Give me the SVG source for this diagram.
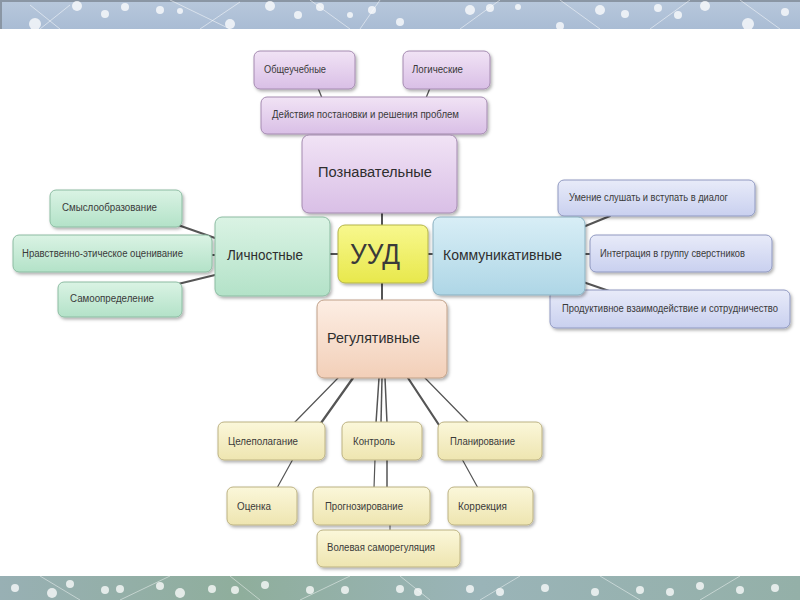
<svg xmlns="http://www.w3.org/2000/svg" width="800" height="600" viewBox="0 0 800 600">
<defs>
<style>
.t{font-family:"Liberation Sans","Arial",sans-serif;fill:#3a3a3a}
.leaf{font-size:10px}
.main{font-size:14px;fill:#2e2e2e}
.c{stroke:#555;fill:none;stroke-linecap:round}
.pur{fill:url(#gPur);stroke:#a48ab0}
.grn{fill:url(#gGrn);stroke:#8cbca2}
.yel{fill:url(#gYel);stroke:#b4b44a}
.blu{fill:url(#gBlu);stroke:#8ab0c0}
.lav{fill:url(#gLav);stroke:#8f98c0}
.pch{fill:url(#gPch);stroke:#c0a088}
.crm{fill:url(#gCrm);stroke:#bcb282}
.dot{fill:#ffffff;opacity:0.75}
</style>
<linearGradient id="gPur" x1="0" y1="0" x2="0" y2="1"><stop offset="0" stop-color="#f1e3f5"/><stop offset="1" stop-color="#d9bfe6"/></linearGradient>
<linearGradient id="gGrn" x1="0" y1="0" x2="0" y2="1"><stop offset="0" stop-color="#daf3e4"/><stop offset="1" stop-color="#b3e2c8"/></linearGradient>
<linearGradient id="gYel" x1="0" y1="0" x2="0" y2="1"><stop offset="0" stop-color="#f8f88e"/><stop offset="1" stop-color="#e8e84c"/></linearGradient>
<linearGradient id="gBlu" x1="0" y1="0" x2="0" y2="1"><stop offset="0" stop-color="#d8eef6"/><stop offset="1" stop-color="#aed6e6"/></linearGradient>
<linearGradient id="gLav" x1="0" y1="0" x2="0" y2="1"><stop offset="0" stop-color="#e8ebf9"/><stop offset="1" stop-color="#c9d0ef"/></linearGradient>
<linearGradient id="gPch" x1="0" y1="0" x2="0" y2="1"><stop offset="0" stop-color="#fdeee4"/><stop offset="1" stop-color="#f2cfb8"/></linearGradient>
<linearGradient id="gCrm" x1="0" y1="0" x2="0" y2="1"><stop offset="0" stop-color="#fbf7da"/><stop offset="1" stop-color="#eee5b0"/></linearGradient>
<linearGradient id="gTop" x1="0" y1="0" x2="0" y2="1"><stop offset="0" stop-color="#b8c8dc"/><stop offset="1" stop-color="#a9bcd4"/></linearGradient>
<linearGradient id="gBot" x1="0" y1="0" x2="1" y2="0"><stop offset="0" stop-color="#98b0b4"/><stop offset="0.3" stop-color="#8fae9c"/><stop offset="0.6" stop-color="#9ab4b8"/><stop offset="1" stop-color="#94b0a8"/></linearGradient>
<filter id="sh" x="-10%" y="-10%" width="130%" height="140%"><feDropShadow dx="1.5" dy="2" stdDeviation="1.5" flood-color="#000" flood-opacity="0.3"/></filter>
</defs>
<rect width="800" height="600" fill="#ffffff"/>
<g id="banner-top">
<rect x="0" y="0" width="800" height="29" fill="url(#gTop)"/>
<rect x="0" y="0" width="800" height="2" fill="#8a96a4"/>
<rect x="0" y="0" width="2" height="29" fill="#8a96a4"/>
<g stroke="#ffffff" stroke-opacity="0.5" stroke-width="1">
<line x1="30" y1="5" x2="60" y2="29"/><line x1="70" y1="5" x2="40" y2="29"/><line x1="170" y1="0" x2="230" y2="29"/><line x1="200" y1="29" x2="240" y2="2"/><line x1="310" y1="0" x2="350" y2="29"/><line x1="360" y1="29" x2="380" y2="0"/><line x1="460" y1="29" x2="500" y2="0"/><line x1="560" y1="0" x2="600" y2="29"/><line x1="650" y1="29" x2="690" y2="0"/><line x1="740" y1="0" x2="780" y2="29"/>
</g>
<circle class="dot" cx="77" cy="6" r="5"/><circle class="dot" cx="105" cy="14" r="4"/><circle class="dot" cx="125" cy="7" r="4"/><circle class="dot" cx="35" cy="24" r="6"/><circle class="dot" cx="160" cy="10" r="4"/><circle class="dot" cx="180" cy="11" r="3"/><circle class="dot" cx="230" cy="24" r="5"/><circle class="dot" cx="270" cy="6" r="5"/><circle class="dot" cx="298" cy="15" r="4"/><circle class="dot" cx="320" cy="7" r="4"/><circle class="dot" cx="350" cy="15" r="3"/><circle class="dot" cx="372" cy="10" r="4"/><circle class="dot" cx="400" cy="22" r="4"/><circle class="dot" cx="470" cy="10" r="5"/><circle class="dot" cx="490" cy="8" r="4"/><circle class="dot" cx="518" cy="7" r="3"/><circle class="dot" cx="560" cy="26" r="4"/><circle class="dot" cx="600" cy="10" r="5"/><circle class="dot" cx="625" cy="14" r="4"/><circle class="dot" cx="658" cy="8" r="4"/><circle class="dot" cx="678" cy="15" r="4"/><circle class="dot" cx="705" cy="6" r="5"/><circle class="dot" cx="748" cy="24" r="6"/><circle class="dot" cx="785" cy="12" r="4"/>
</g>
<g id="banner-bottom">
<rect x="0" y="576" width="800" height="24" fill="url(#gBot)"/>
<g stroke="#ffffff" stroke-opacity="0.45" stroke-width="1">
<line x1="40" y1="576" x2="80" y2="600"/><line x1="120" y1="600" x2="170" y2="576"/><line x1="230" y1="576" x2="260" y2="600"/><line x1="300" y1="600" x2="350" y2="576"/><line x1="400" y1="576" x2="430" y2="600"/><line x1="480" y1="600" x2="520" y2="576"/><line x1="600" y1="576" x2="640" y2="600"/><line x1="700" y1="600" x2="740" y2="576"/>
</g>
<circle class="dot" cx="15" cy="588" r="4"/><circle class="dot" cx="52" cy="593" r="5"/><circle class="dot" cx="70" cy="584" r="4"/><circle class="dot" cx="105" cy="590" r="4"/><circle class="dot" cx="120" cy="589" r="4"/><circle class="dot" cx="160" cy="586" r="4"/><circle class="dot" cx="180" cy="593" r="5"/><circle class="dot" cx="212" cy="589" r="4"/><circle class="dot" cx="235" cy="590" r="4"/><circle class="dot" cx="265" cy="585" r="4"/><circle class="dot" cx="310" cy="590" r="4"/><circle class="dot" cx="345" cy="590" r="4"/><circle class="dot" cx="400" cy="589" r="4"/><circle class="dot" cx="418" cy="592" r="4"/><circle class="dot" cx="470" cy="589" r="4"/><circle class="dot" cx="500" cy="592" r="4"/><circle class="dot" cx="545" cy="588" r="4"/><circle class="dot" cx="595" cy="592" r="4"/><circle class="dot" cx="640" cy="590" r="4"/><circle class="dot" cx="670" cy="592" r="4"/><circle class="dot" cx="700" cy="586" r="4"/><circle class="dot" cx="740" cy="590" r="4"/><circle class="dot" cx="775" cy="588" r="4"/>
</g>
<g id="connectors">
<line class="c" stroke-width="2" x1="382" y1="213" x2="382" y2="225"/>
<line class="c" stroke-width="2" x1="382" y1="283" x2="382" y2="300"/>
<line class="c" stroke-width="2" x1="330" y1="254" x2="338" y2="254"/>
<line class="c" stroke-width="2" x1="428" y1="254" x2="433" y2="254"/>
<line class="c" stroke-width="1.3" x1="318" y1="88" x2="322" y2="98"/>
<line class="c" stroke-width="1.3" x1="430" y1="88" x2="426" y2="98"/>
<line class="c" stroke-width="2" x1="178" y1="225" x2="215" y2="238"/>
<line class="c" stroke-width="2" x1="210" y1="255" x2="215" y2="255"/>
<line class="c" stroke-width="2" x1="178" y1="284" x2="215" y2="275"/>
<line class="c" stroke-width="2" x1="583" y1="227" x2="610" y2="216"/>
<line class="c" stroke-width="2" x1="583" y1="254" x2="592" y2="254"/>
<line class="c" stroke-width="2" x1="583" y1="282" x2="615" y2="293"/>
<line class="c" stroke-width="1.2" x1="338" y1="378" x2="294" y2="423"/>
<line class="c" stroke-width="2.2" x1="353" y1="378" x2="321" y2="423"/>
<line class="c" stroke-width="1.5" x1="379" y1="378" x2="376" y2="423"/>
<line class="c" stroke-width="1.5" x1="382" y1="378" x2="381" y2="423"/>
<line class="c" stroke-width="1.5" x1="385" y1="378" x2="387" y2="423"/>
<line class="c" stroke-width="2.2" x1="408" y1="378" x2="439" y2="425"/>
<line class="c" stroke-width="1.2" x1="425" y1="378" x2="468" y2="422"/>
<line class="c" stroke-width="1.2" x1="293" y1="459" x2="277" y2="488"/>
<line class="c" stroke-width="1.2" x1="375" y1="459" x2="374" y2="488"/>
<line class="c" stroke-width="1.5" x1="387" y1="459" x2="387" y2="488"/>
<line class="c" stroke-width="1" x1="390" y1="524" x2="390" y2="531"/>
<line class="c" stroke-width="1.2" x1="462" y1="459" x2="478" y2="488"/>
</g>
<g id="n-obshcheuchebnye"><rect class="pur" filter="url(#sh)" x="254" y="51" width="101" height="38" rx="6"/><text class="t leaf" x="264" y="73" textLength="62" lengthAdjust="spacingAndGlyphs">Общеучебные</text></g>
<g id="n-logicheskie"><rect class="pur" filter="url(#sh)" x="403" y="51" width="87" height="38" rx="6"/><text class="t leaf" x="412" y="73" textLength="51" lengthAdjust="spacingAndGlyphs">Логические</text></g>
<g id="n-deystviya"><rect class="pur" filter="url(#sh)" x="261" y="97" width="226" height="37" rx="6"/><text class="t leaf" x="272" y="118" textLength="187" lengthAdjust="spacingAndGlyphs">Действия постановки и решения проблем</text></g>
<g id="n-poznavatelnye"><rect class="pur" filter="url(#sh)" x="302" y="135" width="155" height="78" rx="7"/><text class="t main" x="318" y="177" textLength="114" lengthAdjust="spacingAndGlyphs">Познавательные</text></g>
<g id="n-smysl"><rect class="grn" filter="url(#sh)" x="50" y="190" width="132" height="37" rx="6"/><text class="t leaf" x="62" y="211" textLength="95" lengthAdjust="spacingAndGlyphs">Смыслообразование</text></g>
<g id="n-nravstv"><rect class="grn" filter="url(#sh)" x="13" y="235" width="199" height="37" rx="6"/><text class="t leaf" x="22" y="257" textLength="161" lengthAdjust="spacingAndGlyphs">Нравственно-этическое оценивание</text></g>
<g id="n-samoopr"><rect class="grn" filter="url(#sh)" x="58" y="282" width="124" height="35" rx="6"/><text class="t leaf" x="70" y="302" textLength="84" lengthAdjust="spacingAndGlyphs">Самоопределение</text></g>
<g id="n-lichnostnye"><rect class="grn" filter="url(#sh)" x="215" y="217" width="115" height="79" rx="7"/><text class="t main" x="227" y="260" textLength="76" lengthAdjust="spacingAndGlyphs">Личностные</text></g>
<g id="n-uud"><rect class="yel" filter="url(#sh)" x="338" y="225" width="90" height="58" rx="7"/><text class="t" x="350" y="264" font-size="30" textLength="50" lengthAdjust="spacingAndGlyphs" fill="#333">УУД</text></g>
<g id="n-umenie"><rect class="lav" filter="url(#sh)" x="558" y="180" width="197" height="36" rx="6"/><text class="t leaf" x="569" y="201" textLength="159" lengthAdjust="spacingAndGlyphs">Умение слушать и вступать в диалог</text></g>
<g id="n-integr"><rect class="lav" filter="url(#sh)" x="590" y="235" width="182" height="37" rx="6"/><text class="t leaf" x="600" y="257" textLength="145" lengthAdjust="spacingAndGlyphs">Интеграция в группу сверстников</text></g>
<g id="n-produkt"><rect class="lav" filter="url(#sh)" x="550" y="290" width="240" height="38" rx="6"/><text class="t leaf" x="562" y="312" textLength="216" lengthAdjust="spacingAndGlyphs">Продуктивное взаимодействие и сотрудничество</text></g>
<g id="n-kommunik"><rect class="blu" filter="url(#sh)" x="433" y="217" width="152" height="78" rx="7"/><text class="t main" x="443" y="260" textLength="119" lengthAdjust="spacingAndGlyphs">Коммуникативные</text></g>
<g id="n-regul"><rect class="pch" filter="url(#sh)" x="317" y="300" width="130" height="78" rx="7"/><text class="t main" x="327" y="343" textLength="93" lengthAdjust="spacingAndGlyphs">Регулятивные</text></g>
<g id="n-tselepol"><rect class="crm" filter="url(#sh)" x="218" y="422" width="107" height="38" rx="6"/><text class="t leaf" x="228" y="445" textLength="70" lengthAdjust="spacingAndGlyphs">Целеполагание</text></g>
<g id="n-kontrol"><rect class="crm" filter="url(#sh)" x="342" y="422" width="80" height="38" rx="6"/><text class="t leaf" x="353" y="445" textLength="42" lengthAdjust="spacingAndGlyphs">Контроль</text></g>
<g id="n-planir"><rect class="crm" filter="url(#sh)" x="438" y="422" width="104" height="38" rx="6"/><text class="t leaf" x="450" y="445" textLength="65" lengthAdjust="spacingAndGlyphs">Планирование</text></g>
<g id="n-otsenka"><rect class="crm" filter="url(#sh)" x="227" y="487" width="70" height="38" rx="6"/><text class="t leaf" x="237" y="510" textLength="34" lengthAdjust="spacingAndGlyphs">Оценка</text></g>
<g id="n-prognoz"><rect class="crm" filter="url(#sh)" x="313" y="487" width="117" height="38" rx="6"/><text class="t leaf" x="325" y="510" textLength="78" lengthAdjust="spacingAndGlyphs">Прогнозирование</text></g>
<g id="n-korrek"><rect class="crm" filter="url(#sh)" x="448" y="487" width="85" height="38" rx="6"/><text class="t leaf" x="458" y="510" textLength="49" lengthAdjust="spacingAndGlyphs">Коррекция</text></g>
<g id="n-volevaya"><rect class="crm" filter="url(#sh)" x="317" y="530" width="143" height="37" rx="6"/><text class="t leaf" x="327" y="551" textLength="108" lengthAdjust="spacingAndGlyphs">Волевая саморегуляция</text></g>
</svg>
